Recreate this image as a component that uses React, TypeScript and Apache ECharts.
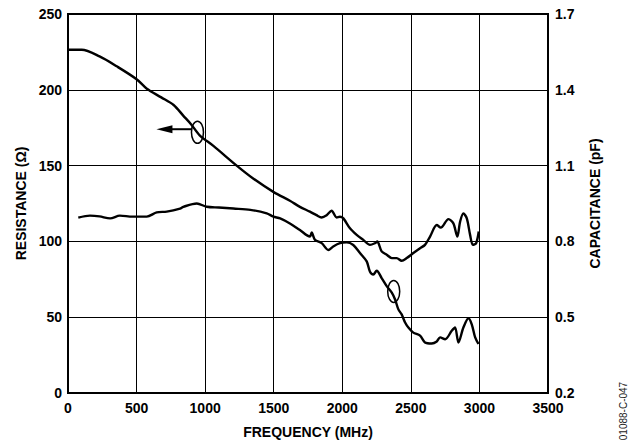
import React, { useEffect, useRef } from 'react';
import * as echarts from 'echarts';

// Resistance (left axis, Ω) vs frequency (MHz)
const resFreq = [0, 100, 230, 355, 500, 575, 680, 770, 840, 900, 960, 1060, 1230, 1350, 1500, 1618, 1691, 1764, 1812, 1849, 1886, 1922, 1959, 1983, 2008, 2056, 2105, 2153, 2202, 2238, 2255, 2287, 2324, 2361, 2397, 2433, 2470, 2518, 2567, 2603, 2640, 2689, 2718, 2774, 2810, 2839, 2859, 2883, 2908, 2932, 2952, 2976, 2995];
const resValues = [226.4, 226.4, 222, 215.5, 207, 200.7, 195, 190, 183, 177, 170, 163, 150, 141.5, 132.5, 126.8, 122.8, 119.6, 117.3, 115.8, 117.3, 120.2, 115.8, 116.3, 115.2, 108.6, 104.3, 101, 97.7, 98.8, 99.9, 93.4, 91.2, 89, 89, 87.2, 89, 92.3, 95.5, 97.7, 103.2, 110.8, 109.1, 114.7, 111.9, 103.2, 113, 118.5, 115.2, 104.3, 97.7, 98.8, 106.5];

// Capacitance (right axis, pF) vs frequency (MHz)
const capFreq = [75, 160, 230, 307, 378, 470, 574, 647, 720, 817, 841, 939, 1012, 1100, 1206, 1330, 1449, 1498, 1547, 1618, 1691, 1764, 1777, 1801, 1850, 1898, 1934, 1983, 2032, 2080, 2129, 2178, 2202, 2226, 2251, 2287, 2324, 2361, 2385, 2409, 2433, 2458, 2482, 2518, 2567, 2603, 2652, 2689, 2713, 2750, 2798, 2822, 2847, 2883, 2920, 2944, 2969, 2993];
const capValues = [0.894, 0.902, 0.899, 0.891, 0.902, 0.898, 0.898, 0.915, 0.918, 0.930, 0.937, 0.950, 0.937, 0.934, 0.930, 0.925, 0.911, 0.898, 0.891, 0.871, 0.845, 0.819, 0.835, 0.806, 0.793, 0.766, 0.780, 0.793, 0.796, 0.786, 0.754, 0.721, 0.680, 0.669, 0.684, 0.655, 0.623, 0.597, 0.570, 0.531, 0.511, 0.479, 0.459, 0.439, 0.427, 0.400, 0.396, 0.404, 0.420, 0.413, 0.446, 0.459, 0.400, 0.459, 0.496, 0.472, 0.420, 0.394];

// Axis ranges
const freqRange = [0, 3500, 500];
const resRange = [0, 250, 50];
const capRange = [0.2, 1.7, 0.3];

// Annotation anchors (data coordinates)
const resMarker = [944, 172];        // ellipse on resistance curve
const resArrow = [[903, 174], [645, 174]]; // arrow tail -> tip
const capMarker = [2375, 0.602];     // ellipse on capacitance curve

const FONT = 'Liberation Sans, Arial, Helvetica, sans-serif';

export default function App() {
  const ref = useRef<HTMLDivElement>(null);
  useEffect(() => {
    const chart = echarts.init(ref.current!, null, { renderer: 'svg' });
    const labelStyle = { color: '#000', fontSize: 14, fontWeight: 'bold' as const, fontFamily: FONT };
    chart.setOption({
      animation: false,
      backgroundColor: '#fff',
      grid: { left: 68, right: 83, top: 14, bottom: 48, show: true, borderColor: '#000', borderWidth: 2, backgroundColor: 'transparent' },
      xAxis: {
        type: 'value', min: freqRange[0], max: freqRange[1], interval: freqRange[2],
        name: 'FREQUENCY (MHz)', nameLocation: 'middle', nameGap: 32,
        nameTextStyle: { ...labelStyle },
        axisLine: { show: true, lineStyle: { color: '#000', width: 2 } },
        axisTick: { show: false },
        axisLabel: { ...labelStyle, margin: 8, formatter: (v: number) => String(v) },
        splitLine: { show: true, lineStyle: { color: '#000', width: 1 } },
      },
      yAxis: [
        {
          type: 'value', position: 'left', min: resRange[0], max: resRange[1], interval: resRange[2],
          name: 'RESISTANCE (Ω)', nameLocation: 'middle', nameGap: 40,
          nameTextStyle: { ...labelStyle },
          axisLine: { show: true, lineStyle: { color: '#000', width: 2 } },
          axisTick: { show: false },
          axisLabel: { ...labelStyle, margin: 6, formatter: (v: number) => String(v) },
          splitLine: { show: true, lineStyle: { color: '#000', width: 1 } },
        },
        {
          type: 'value', position: 'right', min: capRange[0], max: capRange[1], interval: capRange[2],
          name: 'CAPACITANCE (pF)', nameLocation: 'middle', nameGap: 40,
          nameTextStyle: { ...labelStyle },
          axisLine: { show: true, lineStyle: { color: '#000', width: 2 } },
          axisTick: { show: false },
          axisLabel: { ...labelStyle, margin: 7, formatter: (v: number) => v.toFixed(1) },
          splitLine: { show: false },
        },
      ],
      series: [
        {
          type: 'line', name: 'Resistance', yAxisIndex: 0, showSymbol: false, smooth: 0.3,
          data: resFreq.map((f, i) => [f, resValues[i]]),
          lineStyle: { color: '#000', width: 2.4 }, itemStyle: { color: '#000' },
        },
        {
          type: 'line', name: 'Capacitance', yAxisIndex: 1, showSymbol: false, smooth: 0.3,
          data: capFreq.map((f, i) => [f, capValues[i]]),
          lineStyle: { color: '#000', width: 2.4 }, itemStyle: { color: '#000' },
        },
      ],
    });

    const pr = (v: number[]) => chart.convertToPixel({ xAxisIndex: 0, yAxisIndex: 0 }, v) as number[];
    const pc = (v: number[]) => chart.convertToPixel({ xAxisIndex: 0, yAxisIndex: 1 }, v) as number[];
    const e1 = pr(resMarker);
    const a0 = pr(resArrow[0]);
    const a1 = pr(resArrow[1]);
    const e2 = pc(capMarker);
    const headLen = 16;
    const headHalf = 4;

    chart.setOption({
      graphic: [
        { type: 'ellipse', shape: { cx: e1[0], cy: e1[1], rx: 6, ry: 11 }, style: { fill: 'none', stroke: '#000', lineWidth: 1.5 }, z: 100 },
        { type: 'ellipse', shape: { cx: e2[0], cy: e2[1], rx: 6, ry: 11 }, style: { fill: 'none', stroke: '#000', lineWidth: 1.5 }, z: 100 },
        { type: 'line', shape: { x1: a0[0], y1: a0[1], x2: a1[0] + headLen - 2, y2: a1[1] }, style: { stroke: '#000', lineWidth: 2 }, z: 100 },
        {
          type: 'polygon',
          shape: { points: [[a1[0], a1[1]], [a1[0] + headLen, a1[1] - headHalf], [a1[0] + headLen, a1[1] + headHalf]] },
          style: { fill: '#000' }, z: 100,
        },
        {
          type: 'text', x: 623, y: 411, rotation: Math.PI / 2,
          style: { text: '01088-C-047', fontSize: 10, fontFamily: FONT, fill: '#222', align: 'center', verticalAlign: 'middle' },
          z: 100,
        },
      ],
    });
    return () => chart.dispose();
  }, []);
  return <div ref={ref} style={{ position: 'absolute', left: 0, top: 0, width: 631, height: 444 }} />;
}
